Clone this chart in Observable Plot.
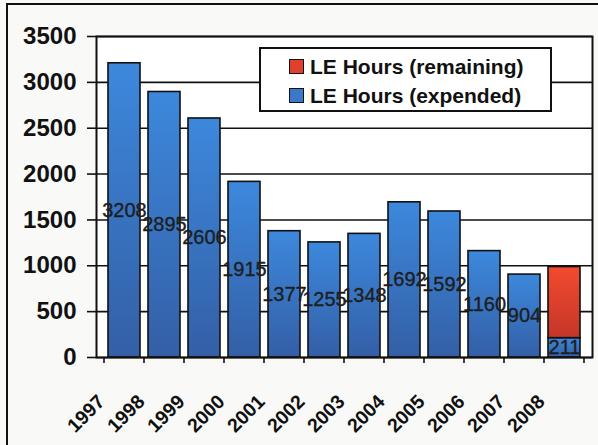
<!DOCTYPE html>
<html>
<head>
<meta charset="utf-8">
<script src="https://cdn.jsdelivr.net/npm/d3@7"></script>
<script src="https://cdn.jsdelivr.net/npm/@observablehq/plot@0.6"></script>
<style>
  html, body { margin: 0; padding: 0; background: #f9f9f8; }
  #wrap { position: relative; width: 598px; height: 445px; overflow: hidden; font-family: "Liberation Sans", Arial, sans-serif; }
  #frame { position: absolute; left: 6px; top: 3px; width: 600px; height: 450px; border-left: 2px solid #111; border-top: 2px solid #111; box-sizing: border-box; pointer-events: none; }
  #legend { position: absolute; left: 259px; top: 47px; width: 293px; height: 65px; background: #fff; border: 2px solid #111; box-sizing: border-box; padding: 3px 0 0 28px; }
  .item { display: flex; align-items: center; height: 29px; font-weight: bold; font-size: 21px; color: #111; }
  .sw { width: 13px; height: 13px; border: 1.5px solid #111; margin-right: 6px; flex: none; }
</style>
</head>
<body>
<div id="wrap"></div>
<script>
const years = ["1997","1998","1999","2000","2001","2002","2003","2004","2005","2006","2007","2008"];
const expended = [3208, 2895, 2606, 1915, 1377, 1255, 1348, 1692, 1592, 1160, 904, 211];
const remaining = [0, 0, 0, 0, 0, 0, 0, 0, 0, 0, 0, 775];
const seriesNames = ["LE Hours (expended)", "LE Hours (remaining)"];
const seriesFills = ["url(#gBlue)", "url(#gRed)"];
const swatchColors = ["#3a78c8", "#e0402c"];
const yTicks = [0, 500, 1000, 1500, 2000, 2500, 3000, 3500];

const rows = [];
years.forEach((y, i) => {
  rows.push({year: y, series: seriesNames[0], value: expended[i]});
  rows.push({year: y, series: seriesNames[1], value: remaining[i]});
});
const expRows = years.map((y, i) => ({year: y, series: seriesNames[0], value: expended[i]}));

const defs = () => {
  const d = d3.create("svg:defs");
  const b = d.append("linearGradient").attr("id", "gBlue").attr("x1", 0).attr("y1", 0).attr("x2", 0).attr("y2", 1);
  b.append("stop").attr("offset", "0%").attr("stop-color", "#3d88dc");
  b.append("stop").attr("offset", "100%").attr("stop-color", "#335fa6");
  const r = d.append("linearGradient").attr("id", "gRed").attr("x1", 0).attr("y1", 0).attr("x2", 0).attr("y2", 1);
  r.append("stop").attr("offset", "0%").attr("stop-color", "#f24b31");
  r.append("stop").attr("offset", "100%").attr("stop-color", "#c43628");
  return d.node();
};

const plot = Plot.plot({
  width: 598,
  height: 445,
  marginLeft: 96,
  marginRight: 6,
  marginTop: 36,
  marginBottom: 88,
  style: {background: "transparent", fontFamily: "'Liberation Sans', Arial, sans-serif", overflow: "visible"},
  x: {domain: years, padding: 0.2, label: null},
  y: {domain: [0, 3500], label: null},
  color: {domain: seriesNames, range: seriesFills},
  marks: [
    defs,
    Plot.frame({fill: "#fff", stroke: "none"}),
    Plot.ruleY(yTicks, {stroke: "#111", strokeWidth: 1.6}),
    Plot.barY(rows, Plot.stackY({x: "year", y: "value", fill: "series", order: seriesNames, stroke: "#111", strokeWidth: 1.6})),
    Plot.text(expRows, Plot.stackY({x: "year", y: "value", text: d => String(d.value), fontSize: 20, fill: "#1e1e1e", stroke: "#1e1e1e", strokeWidth: 0.35})),
    Plot.frame({stroke: "#111", strokeWidth: 2}),
    Plot.axisY(yTicks, {tickSize: 9, tickPadding: 11, fontSize: 24, fontWeight: "bold", fill: "#111", stroke: "#111", strokeWidth: 1.6, tickFormat: d => String(d)}),
    Plot.axisX({tickSize: 0, tickRotate: -45, fontSize: 19.5, fontWeight: "bold", fill: "#111", tickPadding: 26, dx: -23, dy: 15})
  ]
});

// boundary ticks between categories, from the x scale
const xs = plot.scale("x");
const svg = d3.select(plot);
const bounds = years.map(y => xs.apply(y) - (xs.step - xs.bandwidth) / 2);
bounds.push(xs.apply(years[years.length - 1]) + xs.bandwidth + (xs.step - xs.bandwidth) / 2);
const y0 = plot.scale("y").apply(0);
svg.append("g").selectAll("line").data(bounds).join("line")
  .attr("x1", d => d).attr("x2", d => d)
  .attr("y1", y0).attr("y2", y0 + 6)
  .attr("stroke", "#111").attr("stroke-width", 1.6);

const wrap = document.getElementById("wrap");
wrap.appendChild(plot);
const frame = document.createElement("div");
frame.id = "frame";
wrap.appendChild(frame);

const legend = document.createElement("div");
legend.id = "legend";
[1, 0].forEach(i => {
  const it = document.createElement("div");
  it.className = "item";
  const sw = document.createElement("span");
  sw.className = "sw";
  sw.style.background = swatchColors[i];
  it.appendChild(sw);
  it.appendChild(document.createTextNode(seriesNames[i]));
  legend.appendChild(it);
});
wrap.appendChild(legend);
</script>
</body>
</html>
